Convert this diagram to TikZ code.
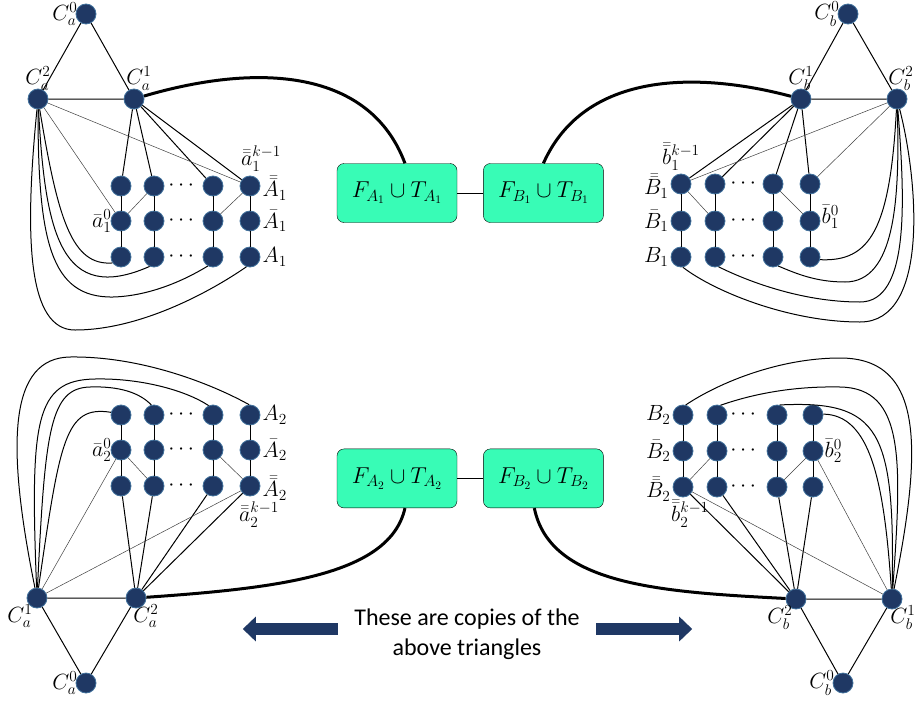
\documentclass[tikz,border=0pt]{standalone}
\usepackage{fix-cm}
\usepackage{amsmath}
\usepackage{amssymb}
\usepackage{fontspec}
\newfontfamily\calfont{Carlito}
\usetikzlibrary{positioning, arrows.meta}

\definecolor{navy}{RGB}{31,56,100}
\definecolor{rim}{RGB}{65,113,156}
\definecolor{aqua}{RGB}{56,252,182}

\begin{document}
\begin{tikzpicture}[x=1pt, y=-1pt,
  dot/.style={circle, fill=navy, draw=rim, line width=0.8pt, minimum size=20pt, inner sep=0pt},
  sbox/.style={draw, rounded corners=7pt, fill=aqua, minimum width=120pt, minimum height=59pt, font=\fontsize{23}{27}\selectfont},
  lbl/.style={inner sep=1pt, font=\fontsize{22}{26}\selectfont},
  every label/.style={lbl},
  link/.style={line width=1pt},
  fine/.style={line width=0.5pt, black!75},
  heavy/.style={line width=3pt},
  bigarrow/.style={line width=12pt, navy, -{Triangle[length=13pt, width=24pt]}}]
  \useasboundingbox (0,0) rectangle (915,704);

  % triangles
  \node[dot, label={[label distance=-3pt]left:$C_a^0$}] (ca0) at (86,14) {};
  \node[dot, label={[label distance=-3pt]above:$C_a^2$}] (ca2) at (38,99) {};
  \node[dot, label={[label distance=-3pt, xshift=5pt]above:$C_a^1$}] (ca1) at (134,99) {};
  \node[dot, label={[label distance=-3pt]left:$C_b^0$}] (cb0) at (848,14) {};
  \node[dot, label={[label distance=-3pt]above:$C_b^1$}] (cb1) at (801,99) {};
  \node[dot, label={[label distance=-3pt, xshift=4pt]above:$C_b^2$}] (cb2) at (897,99) {};
  \node[dot, label={[label distance=-5pt, xshift=-17pt]below:$C_a^1$}] (da1) at (37,598) {};
  \node[dot, label={[label distance=-5pt, xshift=10pt]below:$C_a^2$}] (da2) at (136,598) {};
  \node[dot, label={[label distance=-3pt]left:$C_a^0$}] (da0) at (86,683) {};
  \node[dot, label={[label distance=-5pt, xshift=-16pt]below:$C_b^2$}] (db2) at (796,599) {};
  \node[dot, label={[label distance=-5pt, xshift=11pt]below:$C_b^1$}] (db1) at (892,599) {};
  \node[dot, label={[label distance=-3pt]left:$C_b^0$}] (db0) at (843,683) {};

  % grids
  \foreach \c/\x in {1/121,2/154,3/213,4/250}
    \foreach \r/\y in {1/186,2/221,3/257}
      \node[dot] (ua\c\r) at (\x,\y) {};
  \foreach \c/\x in {1/681,2/715,3/773,4/810}
    \foreach \r/\y in {1/184,2/221,3/257}
      \node[dot] (ub\c\r) at (\x,\y) {};
  \foreach \c/\x in {1/121,2/154,3/213,4/250}
    \foreach \r/\y in {1/415,2/450,3/486}
      \node[dot] (la\c\r) at (\x,\y) {};
  \foreach \c/\x in {1/683,2/717,3/777,4/813}
    \foreach \r/\y in {1/415,2/451,3/487}
      \node[dot] (lb\c\r) at (\x,\y) {};
  \foreach \y in {186,221,257,415,450,486}
    \node[lbl] at (183,\y) {$\cdots$};
  \foreach \y in {184,221,257,415,451,487}
    \node[lbl] at (745,\y) {$\cdots$};

  % grid labels
  \node[lbl, above=3pt of ua41, xshift=11pt] {$\bar{\bar a}_1^{k-1}$};
  \node[lbl, right=1pt of ua41, yshift=-2pt] {$\bar{\bar A}_1$};
  \node[lbl, right=1pt of ua42] {$\bar A_1$};
  \node[lbl, right=1pt of ua43] {$A_1$};
  \node[lbl, left=-2pt of ua12] {$\bar a_1^0$};
  \node[lbl, above=2pt of ub11] {$\bar{\bar b}_1^{k-1}$};
  \node[lbl, left=1pt of ub11, yshift=-2pt] {$\bar{\bar B}_1$};
  \node[lbl, left=1pt of ub12] {$\bar B_1$};
  \node[lbl, left=1pt of ub13] {$B_1$};
  \node[lbl, right=0pt of ub42, yshift=4pt] {$\bar b_1^0$};
  \node[lbl, right=1pt of la41] {$A_2$};
  \node[lbl, right=1pt of la42] {$\bar A_2$};
  \node[lbl, right=1pt of la43, yshift=-2pt] {$\bar{\bar A}_2$};
  \node[lbl, below=4pt of la43, xshift=9pt] {$\bar{\bar a}_2^{k-1}$};
  \node[lbl, left=-2pt of la12] {$\bar a_2^0$};
  \node[lbl, left=1pt of lb11] {$B_2$};
  \node[lbl, left=1pt of lb12] {$\bar B_2$};
  \node[lbl, left=1pt of lb13, yshift=-2pt] {$\bar{\bar B}_2$};
  \node[lbl, below=2pt of lb13, xshift=7pt] {$\bar{\bar b}_2^{k-1}$};
  \node[lbl, right=0pt of lb42] {$\bar b_2^0$};

  % boxes
  \node[sbox] (FA1) at (397,193) {$F_{A_1}\cup T_{A_1}$};
  \node[sbox, right=26pt of FA1] (FB1) {$F_{B_1}\cup T_{B_1}$};
  \node[sbox, below=226pt of FA1] (FA2) {$F_{A_2}\cup T_{A_2}$};
  \node[sbox, right=26pt of FA2] (FB2) {$F_{B_2}\cup T_{B_2}$};
  \draw[link] (FA1) -- (FB1);
  \draw[link] (FA2) -- (FB2);

  \node[font=\calfont\fontsize{24}{30}\selectfont, align=center] (msg) at (467,634)
    {These are copies of the\\above triangles};
  \draw[bigarrow] ([xshift=-13pt, yshift=5pt]msg.west) -- ++(-95,0);
  \draw[bigarrow] ([xshift=13pt, yshift=5pt]msg.east) -- ++(96,0);

  % upper left
  \draw[link] (ca0) -- (ca2) -- (ca1) -- (ca0);
  \foreach \c in {1,...,4} {
    \draw[link] (ca1) -- (ua\c1);
    \draw[link] (ua\c1) -- (ua\c2) -- (ua\c3);
  }
  \draw[fine] (ca2) -- (ua12) (ca2) -- (ua41) (ua12) -- (ua21) (ua32) -- (ua41);
  \draw[link] (ca2) .. controls (58,220) and (72,266) .. (ua13.215);
  \draw[link] (ca2) .. controls (45,235) and (62,305) .. (ua23.245);
  \draw[link] (ca2) .. controls (38,240) and (50,298) .. (113,297) .. controls (150,296) and (185,280) .. (ua33.240);
  \draw[link] (ca2) .. controls (24,240) and (28,330) .. (75,330) .. controls (140,330) and (210,292) .. (ua43.250);

  % upper right
  \draw[link] (cb0) -- (cb1) -- (cb2) -- (cb0);
  \foreach \c in {1,...,4} {
    \draw[link] (cb1) -- (ub\c1);
    \draw[link] (ub\c1) -- (ub\c2) -- (ub\c3);
  }
  \draw[fine] (cb2) -- (ub11) (cb2) -- (ub41) (ub11) -- (ub22) (ub31) -- (ub42);
  \draw[link] (cb2) .. controls (890,230) and (870,262) .. (ub43.-15);
  \draw[link] (cb2) .. controls (900,200) and (895,282) .. (845,282) .. controls (815,282) and (795,273) .. (ub33.-60);
  \draw[link] (cb2) .. controls (905,200) and (910,302) .. (860,302) .. controls (800,302) and (745,280) .. (ub23.-70);
  \draw[link] (cb2) .. controls (918,180) and (930,322) .. (860,322) .. controls (790,322) and (715,292) .. (ub13.-80);

  % lower left
  \draw[link] (da0) -- (da1) -- (da2) -- (da0);
  \foreach \c in {1,...,4} {
    \draw[link] (da2) -- (la\c3);
    \draw[link] (la\c1) -- (la\c2) -- (la\c3);
  }
  \draw[fine] (da1) -- (la12) (da1) -- (la43) (la12) -- (la23) (la32) -- (la43);
  \draw[link] (da1) .. controls (60,440) and (65,405) .. (la11.165);
  \draw[link] (da1) .. controls (45,430) and (50,388) .. (90,387) .. controls (120,386) and (140,393) .. (la21.105);
  \draw[link] (da1) .. controls (30,420) and (35,380) .. (95,379) .. controls (140,378) and (185,390) .. (la31.115);
  \draw[link] (da1) .. controls (5,440) and (10,358) .. (70,357) .. controls (140,356) and (210,383) .. (la41.95);

  % lower right
  \draw[link] (db0) -- (db2) -- (db1) -- (db0);
  \foreach \c in {1,...,4} {
    \draw[link] (db2) -- (lb\c3);
    \draw[link] (lb\c1) -- (lb\c2) -- (lb\c3);
  }
  \draw[fine] (db1) -- (lb13) (db1) -- (lb42) (lb13) -- (lb22) (lb33) -- (lb42);
  \draw[link] (db1) .. controls (884,480) and (870,415) .. (lb41.5);
  \draw[link] (db1) .. controls (895,430) and (880,400) .. (lb31.75);
  \draw[link] (db1) .. controls (902,460) and (905,388) .. (840,387) .. controls (790,386) and (750,395) .. (lb21.70);
  \draw[link] (db1) .. controls (922,450) and (925,358) .. (840,358) .. controls (780,358) and (720,382) .. (lb11.75);

  % to the boxes
  \draw[heavy] (ca1) .. controls (260,62) and (370,70) .. (FA1.75);
  \draw[heavy] (cb1) .. controls (700,72) and (585,70) .. (FB1.north);
  \draw[heavy] (da2) .. controls (280,588) and (390,575) .. (FA2.-75);
  \draw[heavy] (db2) .. controls (660,592) and (550,585) .. (FB2.-107);
\end{tikzpicture}
\end{document}
